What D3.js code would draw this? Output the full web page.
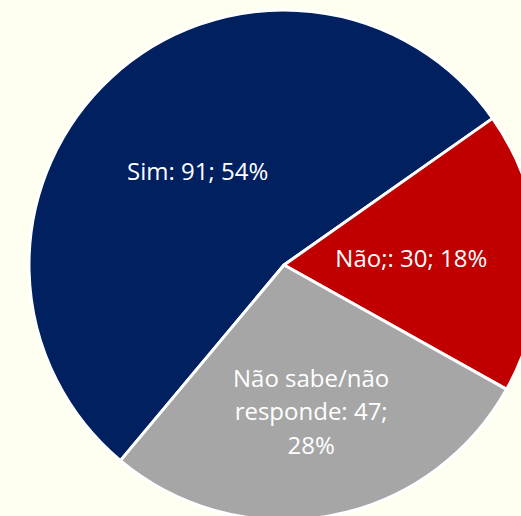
<!DOCTYPE html>
<html>
<head>
<meta charset="utf-8">
<script src="https://cdn.jsdelivr.net/npm/d3@7"></script>
<style>
  html, body { margin: 0; padding: 0; background: #FEFFF0; }
  svg { display: block; }
</style>
</head>
<body>
<div id="chart"></div>
<script>
// data
const categories = ["Sim", "Não;", "Não sabe/não responde"];
const values = [91, 30, 47];
const percents = ["54%", "18%", "28%"];
const labelLines = [
  ["Sim: 91; 54%"],
  ["Não;: 30; 18%"],
  ["Não sabe/não", "responde: 47;", "28%"]
];
const colors = ["#002060", "#C00000", "#A6A6A6"];

const width = 521, height = 516;
const cx = 284, cy = 265, radius = 255;
const lineHeight = 33.5;

const svg = d3.select("#chart").append("svg")
  .attr("width", width)
  .attr("height", height);

svg.append("rect")
  .attr("width", width)
  .attr("height", height)
  .attr("fill", "#FEFFF0");

const g = svg.append("g")
  .attr("transform", `translate(${cx},${cy})`);

// first slice starts so that the "Não" slice begins at ~54.5deg
const start = -140.1 * Math.PI / 180;
const pie = d3.pie()
  .sort(null)
  .value(d => d)
  .startAngle(start)
  .endAngle(start + 2 * Math.PI);

const arcs = pie(values);

const arc = d3.arc().innerRadius(0).outerRadius(radius);

g.selectAll("path")
  .data(arcs)
  .join("path")
  .attr("d", arc)
  .attr("fill", (d, i) => colors[i])
  .attr("stroke", "#ffffff")
  .attr("stroke-width", 3)
  .attr("stroke-linejoin", "round");

// labels
const labelArc = d3.arc();
const labels = g.selectAll("text.label")
  .data(arcs)
  .join("text")
  .attr("class", "label")
  .attr("text-anchor", "middle")
  .attr("fill", "#ffffff")
  .style("font-family", "'Open Sans', 'Noto Sans', sans-serif")
  .style("font-size", "24px")
  .each(function(d, i) {
    const lines = labelLines[i];
    const r = radius * 0.5 + (lines.length - 1) * 11;
    const [x, y] = labelArc.innerRadius(r).outerRadius(r).centroid(d);
    const top = y - (lines.length - 1) * lineHeight / 2;
    d3.select(this).selectAll("tspan")
      .data(lines)
      .join("tspan")
      .attr("x", x)
      .attr("y", (l, j) => top + j * lineHeight)
      .attr("dy", "0.35em")
      .text(l => l);
  });
</script>
</body>
</html>
